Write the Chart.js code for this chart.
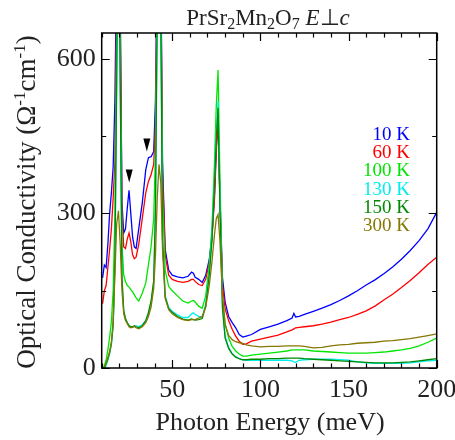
<!DOCTYPE html>
<html>
<head>
<meta charset="utf-8">
<script src="https://cdn.jsdelivr.net/npm/chart.js@4.4.1/dist/chart.umd.min.js"></script>
<style>
html, body { margin: 0; padding: 0; background: #fff; }
</style>
</head>
<body>
<canvas id="myChart" width="455" height="440"></canvas>
<script>
// photon energy (meV), shared by every temperature
var energy = [10.5, 11.5, 12.5, 13.5, 14.5, 15.5, 16.5, 17.5, 18.5, 19.5,
  20.5, 21.5, 22.5, 23.5, 24.5, 25.5, 26.5, 27.5, 28.5, 29.5,
  31, 33, 35, 36.5, 38, 39.5, 40.5, 41.5, 42.5, 43.5,
  44.5, 46, 48, 50, 53, 56, 59, 61, 62, 63,
  65, 67, 69, 71, 72.5, 74, 75, 76, 77, 78.5,
  80, 82, 84, 86, 88, 90, 92, 95, 100, 105,
  110, 115, 118, 119, 120, 122, 125, 130, 135, 140,
  145, 150, 155, 160, 165, 170, 175, 180, 185, 190,
  195, 200];

var s10K = [175, 200, 195, 240, 300, 340, 390, 520, 800, 1000,
  700, 320, 262, 270, 310, 345, 300, 255, 235, 232,
  270, 320, 385, 408, 410, 420, 520, 800, 1000, 800,
  400, 230, 190, 180, 177, 175, 178, 186, 184, 176,
  172, 166, 180, 210, 255, 340, 430, 490, 340, 175,
  128, 100, 88, 78, 65, 60, 62, 65, 75, 80,
  85, 92, 97, 106, 99, 100, 104, 110, 116, 123,
  131, 140, 150, 161, 171, 183, 196, 211, 228, 247,
  270, 302];

var s60K = [125, 150, 160, 195, 230, 270, 330, 400, 700, 1000,
  700, 300, 235, 232, 250, 262, 245, 220, 212, 215,
  240, 290, 340, 362, 375, 395, 480, 780, 1000, 780,
  380, 220, 180, 172, 168, 166, 168, 172, 172, 168,
  162, 160, 172, 205, 250, 330, 420, 480, 330, 160,
  115, 92, 75, 62, 52, 46, 47, 52, 56, 60,
  64, 70, 74, 76, 78, 79, 80, 82, 85, 89,
  94, 98, 104, 111, 120, 132, 143, 156, 170, 185,
  201, 215];

var s100K = [-5, 5, 15, 35, 60, 90, 150, 300, 650, 1000,
  600, 240, 180, 168, 160, 157, 152, 148, 142, 136,
  130, 145, 165, 200, 235, 290, 420, 750, 1000, 750,
  330, 190, 158, 150, 140, 130, 126, 130, 131, 128,
  120, 116, 140, 200, 270, 400, 510, 578, 380, 140,
  85, 58, 42, 33, 27, 23, 23, 25, 27, 29,
  31, 33, 35, 35, 35, 35, 35, 33, 32, 31,
  30, 29, 29, 29, 30, 31, 33, 35, 38, 43,
  50, 58];

var s130K = [-20, -5, 5, 15, 28, 45, 80, 200, 550, 1000,
  550, 170, 110, 95, 88, 83, 80, 79, 80, 82,
  80, 84, 92, 105, 125, 165, 300, 700, 1000, 700,
  250, 140, 118, 110, 103, 98, 98, 105, 107, 104,
  100, 98, 125, 185, 255, 370, 460, 518, 330, 120,
  62, 40, 28, 22, 18, 16, 15, 15, 15, 15,
  15, 15, 14, 12, 11, 15, 16, 17, 17, 17,
  16, 15, 12, 10, 9, 9, 9, 9, 10, 12,
  14, 15];

var s150K = [-15, 0, 8, 18, 30, 48, 85, 210, 560, 1000,
  560, 175, 112, 96, 88, 82, 80, 80, 82, 80,
  78, 82, 92, 108, 130, 170, 310, 700, 1000, 700,
  250, 138, 115, 108, 100, 95, 93, 95, 94, 93,
  94, 96, 120, 180, 245, 360, 445, 505, 320, 115,
  58, 38, 27, 21, 18, 16, 16, 17, 17, 18,
  18, 19, 19, 19, 19, 19, 18, 17, 16, 15,
  14, 13, 12, 11, 10, 10, 10, 11, 12, 14,
  16, 18];

var s300K = [-10, 0, 10, 20, 32, 50, 90, 180, 280, 305,
  240, 150, 105, 92, 86, 80, 78, 79, 81, 78,
  76, 80, 88, 100, 118, 155, 220, 330, 395, 360,
  230, 135, 113, 105, 98, 94, 92, 94, 94, 94,
  97, 100, 118, 160, 205, 260, 290, 298, 250, 140,
  85, 63, 55, 51, 49, 48, 45, 43, 41, 42,
  42, 43, 43, 43, 43, 43, 42, 39, 40, 43,
  45, 46, 48, 49, 50, 52, 53, 55, 57, 60,
  63, 66];

var seriesNames = ["10 K", "60 K", "100 K", "130 K", "150 K", "300 K"];
var seriesData = [s10K, s60K, s100K, s130K, s150K, s300K];
var seriesColors = ["#0000ff", "#ff0000", "#00e600", "#00eeee", "#008a00", "#857800"];

var xTicks = [50, 100, 150, 200];
var yTicks = [0, 300, 600];

// arrow heads marking the two shoulders of the 10 K curve
var markerE = [25.6, 35.6];
var markerV = [360, 420];

var serif = "'Liberation Serif', 'Times New Roman', serif";
var textColor = "#222";

function drawRuns(ctx, runs, x, y) {
  var total = 0;
  for (var i = 0; i < runs.length; i++) {
    ctx.font = runs[i].f;
    total += ctx.measureText(runs[i].t).width;
  }
  var cx = x - total / 2;
  for (var j = 0; j < runs.length; j++) {
    ctx.font = runs[j].f;
    ctx.fillText(runs[j].t, cx, y + (runs[j].dy || 0));
    cx += ctx.measureText(runs[j].t).width;
  }
}

var decor = {
  id: "decor",
  afterDraw: function(chart) {
    var ctx = chart.ctx;
    var a = chart.chartArea;
    var xs = chart.scales.x;
    var ys = chart.scales.y;
    ctx.save();

    // frame + inward ticks on all four sides
    ctx.strokeStyle = "#000";
    ctx.lineWidth = 1.5;
    ctx.strokeRect(a.left, a.top, a.right - a.left, a.bottom - a.top);
    ctx.lineWidth = 1.2;
    ctx.beginPath();
    for (var e = 10; e <= 200; e += 10) {
      var px = Math.round(xs.getPixelForValue(e)) + 0.5;
      var len = (e % 50 == 0) ? 8 : 4.5;
      ctx.moveTo(px, a.bottom); ctx.lineTo(px, a.bottom - len);
      ctx.moveTo(px, a.top); ctx.lineTo(px, a.top + len);
    }
    for (var v = 0; v <= 600; v += 150) {
      var py = Math.round(ys.getPixelForValue(v)) + 0.5;
      var l2 = (v % 300 == 0) ? 8 : 4.5;
      ctx.moveTo(a.left, py); ctx.lineTo(a.left + l2, py);
      ctx.moveTo(a.right, py); ctx.lineTo(a.right - l2, py);
    }
    ctx.stroke();

    // markers
    ctx.fillStyle = "#000";
    for (var m = 0; m < markerE.length; m++) {
      var mx = xs.getPixelForValue(markerE[m]);
      var my = ys.getPixelForValue(markerV[m]);
      ctx.beginPath();
      ctx.moveTo(mx, my);
      ctx.lineTo(mx - 3.5, my - 13);
      ctx.lineTo(mx + 3.5, my - 13);
      ctx.closePath();
      ctx.fill();
    }

    // legend text
    ctx.textAlign = "right";
    ctx.textBaseline = "alphabetic";
    ctx.font = "19px " + serif;
    for (var k = 0; k < seriesNames.length; k++) {
      ctx.fillStyle = seriesColors[k];
      ctx.fillText(seriesNames[k], 410, 140 + k * 18.2);
    }

    // titles
    ctx.fillStyle = textColor;
    ctx.textAlign = "left";
    var big = "23px " + serif, small = "16px " + serif, ital = "italic 23px " + serif;
    drawRuns(ctx, [
      {t: "PrSr", f: big}, {t: "2", f: small, dy: 4}, {t: "Mn", f: big},
      {t: "2", f: small, dy: 4}, {t: "O", f: big}, {t: "7", f: small, dy: 4},
      {t: " ", f: big}, {t: "E", f: ital}, {t: "\u22a5", f: big}, {t: "c", f: ital}
    ], 268, 25);

    drawRuns(ctx, [{t: "Photon Energy (meV)", f: "26px " + serif}], 270, 430);

    var yFont = "27px " + serif, supFont = "17px " + serif;
    ctx.translate(35, 202);
    ctx.rotate(-Math.PI / 2);
    drawRuns(ctx, [
      {t: "Optical Conductivity (\u03a9", f: yFont}, {t: "-1", f: supFont, dy: -10},
      {t: "cm", f: yFont}, {t: "-1", f: supFont, dy: -10}, {t: ")", f: yFont}
    ], 0, 0);
    ctx.restore();
  }
};

var datasets = [];
for (var i = 0; i < seriesNames.length; i++) {
  datasets.push({
    label: seriesNames[i],
    data: energy.map(function(e, j) { return {x: e, y: seriesData[i][j]}; }),
    borderColor: seriesColors[i],
    borderWidth: 1.3,
    pointRadius: 0,
    fill: false,
    tension: 0,
    order: seriesNames.length - i
  });
}

var ctx = document.getElementById("myChart").getContext("2d");
var chart = new Chart(ctx, {
  type: "line",
  data: { datasets: datasets },
  options: {
    responsive: false,
    animation: false,
    layout: { padding: { top: 33, right: 18.3, left: 0, bottom: 0 } },
    plugins: { legend: { display: false }, tooltip: { enabled: false }, title: { display: false } },
    scales: {
      x: {
        type: "linear",
        min: 10,
        max: 200,
        afterBuildTicks: function(s) { s.ticks = xTicks.map(function(v) { return {value: v}; }); },
        afterFit: function(s) { s.height = 72; s.paddingLeft = 0; s.paddingRight = 0; },
        grid: { display: false, drawTicks: false },
        border: { display: false },
        ticks: { color: textColor, font: { family: serif, size: 26 }, padding: 7, maxRotation: 0 }
      },
      y: {
        min: 0,
        max: 650,
        afterBuildTicks: function(s) { s.ticks = yTicks.map(function(v) { return {value: v}; }); },
        afterFit: function(s) { s.width = 101.7; },
        grid: { display: false, drawTicks: false },
        border: { display: false },
        ticks: { color: textColor, font: { family: serif, size: 26 }, padding: 6 }
      }
    }
  },
  plugins: [decor]
});
</script>
</body>
</html>
